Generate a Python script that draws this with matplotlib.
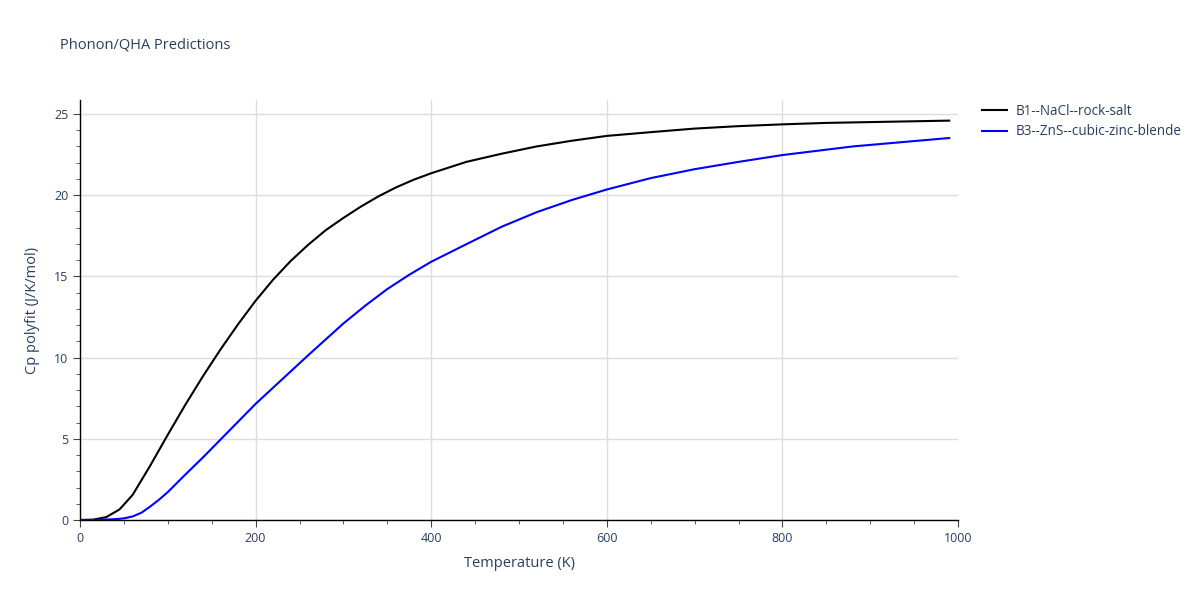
import numpy as np
import matplotlib
matplotlib.use("Agg")
import matplotlib.pyplot as plt
from matplotlib.ticker import MultipleLocator

# Data
T_nacl = [0, 15, 30, 45, 60, 70, 80, 90, 100, 120, 140, 160, 180, 200, 220, 240,
          260, 280, 300, 320, 340, 360, 380, 400, 440, 480, 520, 560, 600, 650,
          700, 750, 800, 850, 900, 990]
cp_nacl = [0, 0.02, 0.18, 0.65, 1.55, 2.45, 3.35, 4.3, 5.25, 7.1, 8.85, 10.5, 12.05,
           13.5, 14.8, 15.95, 16.95, 17.85, 18.6, 19.3, 19.93, 20.48, 20.95, 21.35,
           22.05, 22.55, 23.0, 23.35, 23.65, 23.88, 24.1, 24.25, 24.36, 24.45,
           24.5, 24.59]

T_zns = [0, 20, 40, 50, 60, 70, 80, 90, 100, 120, 140, 160, 180, 200, 230, 260,
         300, 325, 350, 375, 400, 440, 480, 520, 560, 600, 650, 700, 750, 800, 880,
         990]
cp_zns = [0, 0.01, 0.05, 0.1, 0.22, 0.45, 0.83, 1.25, 1.72, 2.8, 3.85, 4.95, 6.05,
          7.15, 8.65, 10.15, 12.1, 13.2, 14.22, 15.1, 15.9, 16.98, 18.05, 18.95,
          19.7, 20.35, 21.05, 21.6, 22.05, 22.47, 23.0, 23.52]

labels = ["B1--NaCl--rock-salt", "B3--ZnS--cubic-zinc-blende"]

plt.rcParams["font.family"] = ["Open Sans", "DejaVu Sans"]
txt = "#2a3f5f"

fig = plt.figure(figsize=(12, 6), dpi=100)
ax = fig.add_axes([80 / 1200, 80 / 600, 878 / 1200, 420 / 600])

ax.plot(T_nacl, cp_nacl, color="black", lw=1.5, label=labels[0])
ax.plot(T_zns, cp_zns, color="blue", lw=1.5, label=labels[1])

ax.set_xlim(0, 1000)
ax.set_ylim(0, 25.86)
ax.xaxis.set_major_locator(MultipleLocator(200))
ax.xaxis.set_minor_locator(MultipleLocator(50))
ax.yaxis.set_major_locator(MultipleLocator(5))
ax.yaxis.set_minor_locator(MultipleLocator(1))
ax.grid(True, which="major", color="#dddddd", lw=1)
ax.set_axisbelow(True)
# no gridline on the right edge
for xv, gl in zip(ax.get_xticks(), ax.get_xgridlines()):
    if xv >= 1000:
        gl.set_visible(False)

for s in ["top", "right"]:
    ax.spines[s].set_visible(False)
for s in ["left", "bottom"]:
    ax.spines[s].set_color("black")
    ax.spines[s].set_linewidth(1)

ax.tick_params(which="major", length=5, color="#444444", labelcolor=txt, labelsize=9)
ax.tick_params(which="minor", length=3, color="#444444")

ax.set_xlabel("Temperature (K)", color=txt, fontsize=10.5, labelpad=8)
ax.set_ylabel("Cp polyfit (J/K/mol)", color=txt, fontsize=10.5, labelpad=10)
fig.text(60 / 1200, 1 - 45 / 600, "Phonon/QHA Predictions", color=txt,
         fontsize=10.5, va="center", ha="left")

fig.legend(loc="upper left", bbox_to_anchor=(982 / 1200, 1 - 104 / 600),
           frameon=False, fontsize=9.75, handlelength=1.85, handletextpad=0.6,
           labelspacing=0.4, borderpad=0, borderaxespad=0, labelcolor=txt)

fig.savefig("out.png", dpi=100)
